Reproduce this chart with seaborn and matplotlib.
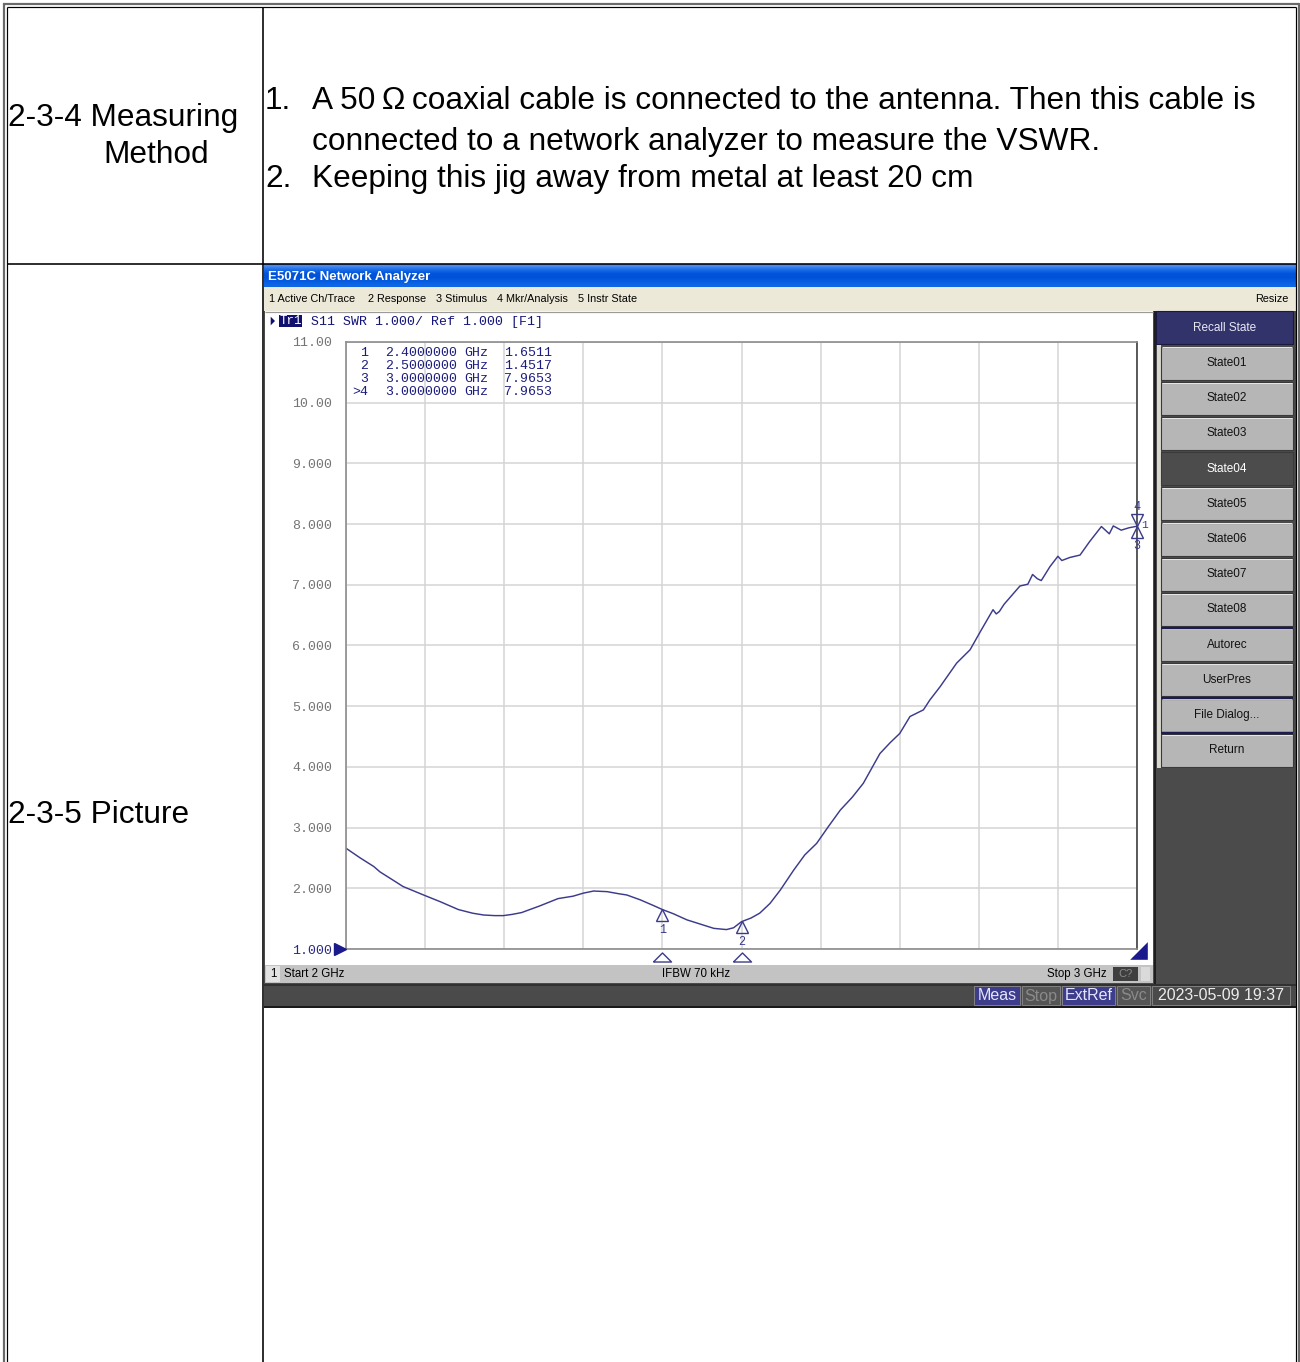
import numpy as np
import matplotlib.pyplot as plt
import matplotlib.patches as mpatches
import matplotlib.transforms as mtransforms
import seaborn as sns

# --- data (S11, SWR) ---
freq_ghz = [2.000, 2.018, 2.035, 2.043, 2.060, 2.072, 2.085, 2.098, 2.119, 2.142,
            2.160, 2.174, 2.188, 2.199, 2.210, 2.222, 2.245, 2.268, 2.287, 2.300,
            2.313, 2.330, 2.345, 2.355, 2.372, 2.388, 2.400, 2.414, 2.431, 2.448,
            2.465, 2.481, 2.490, 2.500, 2.512, 2.523, 2.536, 2.549, 2.566, 2.580,
            2.595, 2.610, 2.625, 2.640, 2.654, 2.675, 2.688, 2.700, 2.713, 2.730,
            2.738, 2.751, 2.772, 2.789, 2.802, 2.818, 2.822, 2.826, 2.832, 2.840,
            2.852, 2.862, 2.868, 2.874, 2.879, 2.890, 2.900, 2.905, 2.915, 2.928,
            2.940, 2.955, 2.965, 2.970, 2.980, 2.990, 3.000]
swr = [2.66, 2.50, 2.36, 2.27, 2.13, 2.03, 1.96, 1.89, 1.78, 1.65,
       1.59, 1.56, 1.55, 1.55, 1.57, 1.60, 1.71, 1.83, 1.87, 1.92,
       1.955, 1.945, 1.91, 1.89, 1.81, 1.72, 1.65, 1.58, 1.48, 1.41,
       1.34, 1.32, 1.35, 1.45, 1.51, 1.59, 1.75, 1.97, 2.30, 2.55,
       2.74, 3.02, 3.29, 3.50, 3.73, 4.22, 4.40, 4.55, 4.83, 4.94,
       5.10, 5.32, 5.71, 5.93, 6.23, 6.59, 6.52, 6.56, 6.68, 6.80,
       6.98, 7.01, 7.17, 7.10, 7.07, 7.30, 7.47, 7.40, 7.45, 7.49,
       7.71, 7.96, 7.84, 7.97, 7.90, 7.94, 7.965]

marker_ids = ['1', '2', '3', '>4']
marker_freq = [2.4, 2.5, 3.0, 3.0]
marker_freq_txt = ['2.4000000', '2.5000000', '3.0000000', '3.0000000']
marker_swr = [1.6511, 1.4517, 7.9653, 7.9653]

ytick_vals = [11, 10, 9, 8, 7, 6, 5, 4, 3, 2, 1]
ytick_labels = ['11.00', '10.00', '9.000', '8.000', '7.000', '6.000',
                '5.000', '4.000', '3.000', '2.000', '1.000']

menu_items = ['1 Active Ch/Trace', '2 Response', '3 Stimulus', '4 Mkr/Analysis', '5 Instr State']
menu_x = [269, 368, 436, 497, 578]
buttons = ['State01', 'State02', 'State03', 'State04', 'State05', 'State06', 'State07',
           'State08', 'Autorec', 'UserPres', 'File Dialog...', 'Return']

sns.set_style('white')
plt.rcParams['font.family'] = ['Liberation Sans', 'DejaVu Sans']
plt.rcParams['text.color'] = 'black'

W, H = 1300, 1362
PX = 0.72  # one pixel in points
fig = plt.figure(figsize=(W / 100, H / 100), dpi=100)
bg = fig.add_axes([0, 0, 1, 1])
bg.axis('off')


def rect(x0, y0, x1, y1, fc, ec='none', lw=0, z=1):
    bg.add_patch(mpatches.Rectangle((x0, y0), x1 - x0, y1 - y0, facecolor=fc,
                                    edgecolor=ec, linewidth=lw, zorder=z))


def line(xs, ys, c, px=1, z=3):
    bg.plot(xs, ys, color=c, lw=px * PX, zorder=z, solid_capstyle='butt')


# --- document table ---
line([4, 4], [3, H], '#6a6a6a', 2.2)
line([3, 1299], [4, 4], '#6a6a6a', 2.2)
line([1298.5, 1298.5], [3, H], '#6a6a6a', 2.2)
line([6.8, 6.8], [6.5, H], 'black', 1.2)
line([6.5, 1296], [6.8, 6.8], 'black', 1.2)
line([1296, 1296], [6.5, H], 'black', 1.2)
line([262.8, 262.8], [6.5, H], 'black', 1.6)
line([6.5, 1296], [263.6, 263.6], 'black', 1.6)

doc_fs = 22.8
bg.text(8, 118, '2-3-4 Measuring', fontsize=doc_fs, va='center', ha='left')
bg.text(156, 155, 'Method', fontsize=doc_fs, va='center', ha='center')
bg.text(8, 815, '2-3-5 Picture', fontsize=doc_fs, va='center', ha='left')
bg.text(265, 101, '1.', fontsize=doc_fs, va='center')
bg.text(312, 101, 'A 50\u2009\u03a9\u2009coaxial cable is connected to the antenna. Then this cable is',
        fontsize=doc_fs, va='center')
bg.text(312, 142, 'connected to a network analyzer to measure the VSWR.', fontsize=doc_fs, va='center')
bg.text(265, 179, '2.', fontsize=doc_fs, va='center')
bg.text(312, 179, 'Keeping this jig away from metal at least 20 cm', fontsize=doc_fs, va='center')

# --- analyzer window ---
rect(264, 264, 1296, 1008, '#4b4b4b', z=1)
grad = np.array([[0.30, 0.55, 0.95], [0.10, 0.42, 0.90], [0.00, 0.33, 0.86],
                 [0.00, 0.32, 0.85], [0.02, 0.36, 0.88], [0.06, 0.40, 0.90]])[:, None, :]
bg.imshow(grad, extent=[264, 1296, 287, 264], aspect='auto', zorder=2, interpolation='bilinear')
bg.text(268, 277, 'E5071C Network Analyzer', color='white', fontsize=9.5, fontweight='bold',
        va='center', zorder=4)
rect(264, 287, 1296, 311, '#ece9d8', z=2)
for label, x in zip(menu_items, menu_x):
    bg.text(x, 299, label, fontsize=7.8, va='center', zorder=4)
bg.text(1289, 299, 'Resize', fontsize=7.8, va='center', ha='right', zorder=4)

# plot pane
rect(265, 311, 1153, 965, 'white', z=2)
line([265, 1153], [311.5, 311.5], '#9a9a9a', 1.2, z=4)
bg.add_patch(mpatches.Polygon([(270, 315), (270, 327), (276, 321)], closed=True,
                              facecolor='#10106e', zorder=4))
rect(279, 315, 302, 327, '#10106e', z=4)
mono = 'Liberation Mono'
bg.text(290.5, 321.5, 'Tr1', color='white', fontsize=9, family=mono, ha='center', va='center', zorder=5)
bg.text(311, 321.5, 'S11 SWR 1.000/ Ref 1.000 [F1]', color='#14147a', fontsize=9.5,
        family=mono, va='center', zorder=5)

# right softkey panel
rect(1153, 311, 1296, 984, '#4b4b4b', z=2)
line([1154.5, 1154.5], [311, 984], '#1e1e1e', 2, z=4)
rect(1156, 311, 1293, 344, '#33336b', ec='#1a1a40', lw=0.8, z=3)
bg.text(1224.5, 328, 'Recall State', color='#e8e8f4', fontsize=8.5, ha='center', va='center', zorder=5)
rect(1156.5, 345, 1160.5, 768, '#d8d8d0', z=3)
for i, label in enumerate(buttons):
    yc = 363 + i * 35.2
    dark = label == 'State04'
    rect(1161, yc - 16.5, 1293, yc + 16.5, '#4c4c4c' if dark else '#b6b6b6',
         ec='#3a3a3a', lw=0.8, z=3)
    if not dark:
        line([1162, 1292], [yc - 15.6, yc - 15.6], '#e6e6e6', 1, z=4)
    bg.text(1227, yc, label, color='white' if dark else '#111111', fontsize=8.5,
            ha='center', va='center', zorder=5)
for ysep in [627.5, 697.9, 733.1]:
    line([1161, 1293], [ysep, ysep], '#1c1c50', 2.4, z=5)

# channel status line
rect(265, 965, 1153, 983, '#c3c3c3', z=3)
rect(266, 966, 280, 982, '#e2e2e2', z=3)
bg.text(270, 974, '1', fontsize=8.3, va='center', zorder=5)
bg.text(284, 974, 'Start 2 GHz', fontsize=8.3, va='center', zorder=5)
bg.text(696, 974, 'IFBW 70 kHz', fontsize=8.3, va='center', ha='center', zorder=5)
bg.text(1107, 974, 'Stop 3 GHz', fontsize=8.3, va='center', ha='right', zorder=5)
rect(1113, 967, 1138, 981, '#3f3f3f', z=4)
bg.text(1125.5, 974, 'C?', fontsize=8, color='#8a8a8a', va='center', ha='center', zorder=5)
rect(1141, 967, 1150, 981, '#dadada', z=4)

# instrument status bar
rect(264, 984, 1296, 1007, '#4a4a4a', z=3)
line([264, 1296], [984.5, 984.5], '#2a2a2a', 1.5, z=4)
line([264, 1296], [1007, 1007], '#1a1a1a', 2, z=4)
status = [('Meas', 974, 1020, '#3d3d8c', '#e4e4ff'),
          ('Stop', 1022, 1060, '#555555', '#8a8a8a'),
          ('ExtRef', 1062, 1115, '#3d3d8c', '#e4e4ff'),
          ('Svc', 1117, 1150, '#555555', '#8a8a8a'),
          ('2023-05-09 19:37', 1152, 1290, '#4a4a4a', '#ececec')]
for label, x0, x1, fc, tc in status:
    rect(x0, 986, x1, 1005, fc, ec='#8a8a8a', lw=0.6, z=4)
    bg.text((x0 + x1) / 2, 996, label, fontsize=11.5, color=tc, ha='center', va='center', zorder=5)

# scale marker in the bottom right corner of the graticule
bg.add_patch(mpatches.Polygon([(1128, 960), (1148, 960), (1148, 940)], closed=True,
                              facecolor='#1a1a8c', zorder=6))

bg.set_xlim(0, W)
bg.set_ylim(H, 0)

# --- SWR trace ---
ax = fig.add_axes([346 / W, 1 - 949 / H, 791 / W, 607 / H])
ax.set_zorder(5)
ax.set_facecolor('white')
trace_c = '#3b3b8c'
sns.lineplot(x=freq_ghz, y=swr, ax=ax, color=trace_c, linewidth=1.05)
ax.set_xlim(2.0, 3.0)
ax.set_ylim(1, 11)
ax.set_xticks(np.linspace(2.0, 3.0, 11))
ax.set_xticklabels([])
ax.set_yticks(ytick_vals)
ax.set_yticklabels(ytick_labels, family=mono, fontsize=9.5, color='#747474')
ax.get_yticklabels()[-1].set_color('#2a2a88')
ax.tick_params(length=0, pad=10)
ax.grid(True, color='#d4d4d4', linewidth=1.1)
ax.set_xlabel('')
ax.set_ylabel('')
for side, sp in ax.spines.items():
    sp.set_color('#8c8c8c')
    sp.set_linewidth(1.2)
ax.spines['right'].set_color('#404040')

# marker readout table (drawn on the trace axes, placed in pixel coordinates)
for i, (mid, ftxt, val) in enumerate(zip(marker_ids, marker_freq_txt, marker_swr)):
    y = 353 + i * 13
    kw = dict(family=mono, fontsize=9.5, color='#1c1c80', va='center', zorder=7,
              transform=bg.transData, clip_on=False)
    ax.text(368, y, mid, ha='right', **kw)
    ax.text(385, y, ftxt, **kw)
    ax.text(464, y, 'GHz', **kw)
    ax.text(504, y, f'{val:.4f}', **kw)

# markers on the trace
ms = 8.5
up = mtransforms.offset_copy(ax.transData, fig=fig, x=0, y=-ms / 2, units='points')
down = mtransforms.offset_copy(ax.transData, fig=fig, x=0, y=ms / 2, units='points')
mk = dict(ls='none', ms=ms, mfc='none', mec=trace_c, mew=1.0, clip_on=False, zorder=8)
ax.plot(marker_freq[:3], marker_swr[:3], marker='^', transform=up, **mk)
ax.plot(marker_freq[3:], marker_swr[3:], marker='v', transform=down, **mk)
for f, v, lab, dy in [(marker_freq[0], marker_swr[0], '1', -15),
                      (marker_freq[1], marker_swr[1], '2', -15),
                      (marker_freq[2], marker_swr[2], '3', -14),
                      (marker_freq[3], marker_swr[3], '4', 14)]:
    ax.annotate(lab, (f, v), xytext=(0, dy), textcoords='offset points', ha='center',
                va='center', family=mono, fontsize=8.5, color=trace_c, annotation_clip=False)
ax.annotate('1', (marker_freq[3], marker_swr[3]), xytext=(3, 1), textcoords='offset points',
            ha='left', va='center', family=mono, fontsize=8, color=trace_c, annotation_clip=False)

# stimulus markers below the graticule
flat_tri = [(-1, -0.5), (0, 0.5), (1, -0.5), (-1, -0.5)]
below = mtransforms.offset_copy(ax.get_xaxis_transform(), fig=fig, x=0, y=-7.5 * PX, units='points')
ax.plot(marker_freq[:2], [0, 0], marker=flat_tri, transform=below, ls='none', ms=13,
        mfc='none', mec=trace_c, mew=1.0, clip_on=False, zorder=8)

# reference level pointer
left = mtransforms.offset_copy(ax.transData, fig=fig, x=-4.5, y=0, units='points')
ax.plot([2.0], [1.0], marker='>', ms=9, color='#1a1a8c', transform=left, clip_on=False, zorder=8)

fig.savefig('out.png', dpi=100)
